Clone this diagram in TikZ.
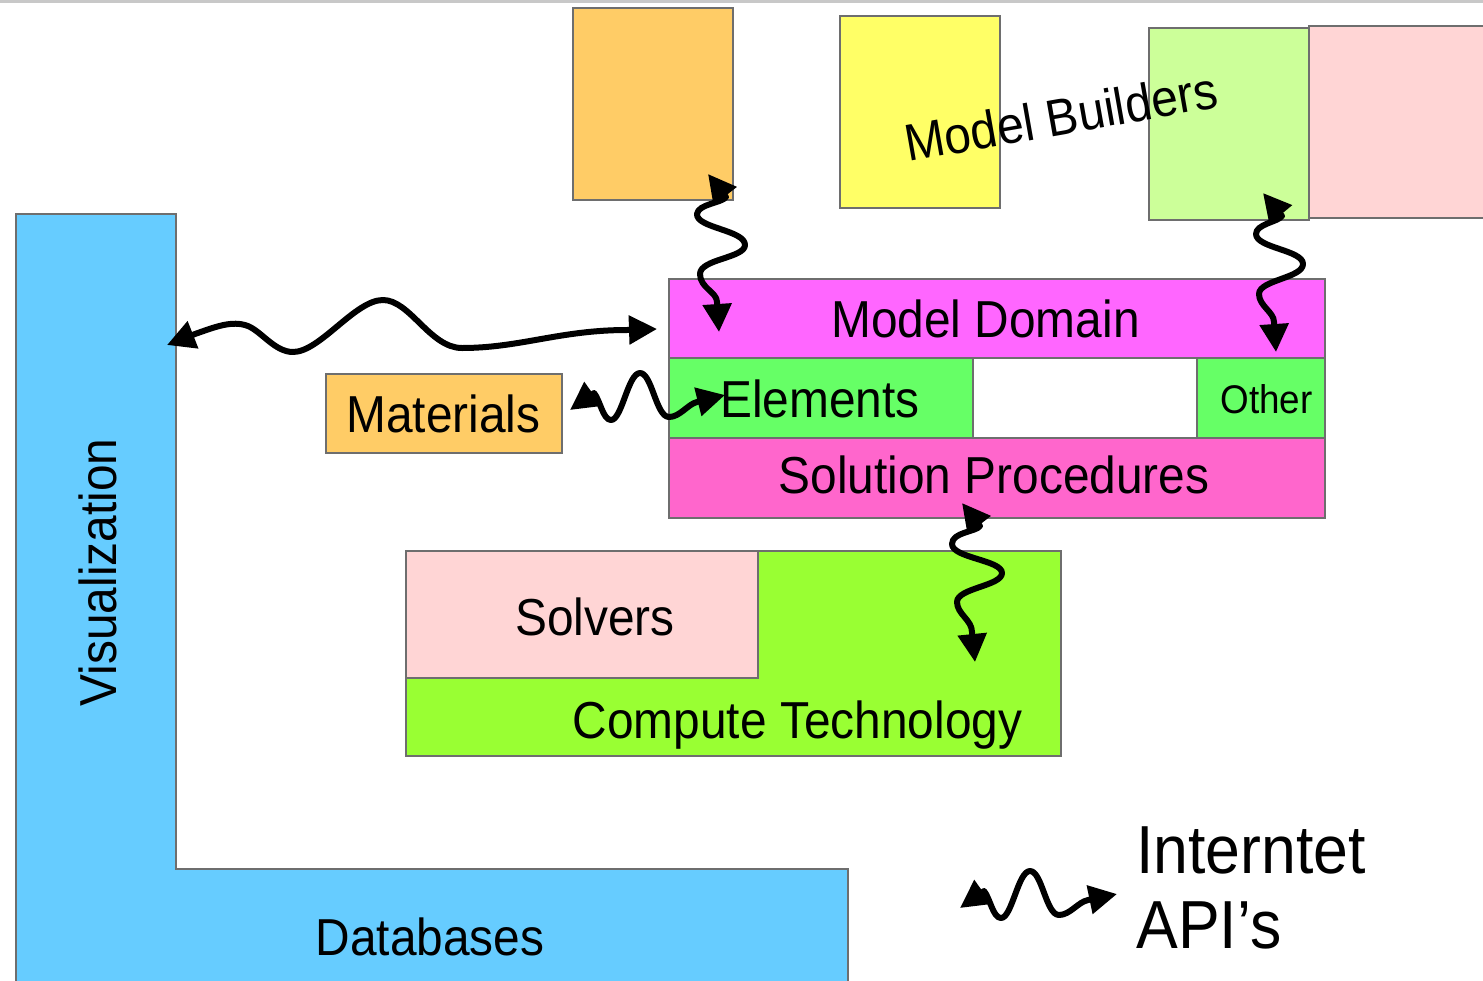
\documentclass[tikz,border=0pt]{standalone}
\usepackage{fontspec}
\usetikzlibrary{arrows.meta}
\newfontfamily\lblfont{Liberation Sans}[FakeStretch=0.92]

\definecolor{topgray}{HTML}{C8C8C8}
\definecolor{vizblue}{HTML}{66CCFF}
\definecolor{builderorange}{HTML}{FFCC66}
\definecolor{builderyellow}{HTML}{FFFF66}
\definecolor{buildergreen}{HTML}{CCFF99}
\definecolor{softpink}{HTML}{FFD5D5}
\definecolor{domainmagenta}{HTML}{FF66FF}
\definecolor{elemgreen}{HTML}{66FF66}
\definecolor{solpink}{HTML}{FF66CC}
\definecolor{computegreen}{HTML}{99FF33}
\definecolor{edgegray}{HTML}{6E6E6E}

\begin{document}
\begin{tikzpicture}[x=0.5pt,y=-0.5pt,
  box/.style={draw=edgegray, line width=0.6pt, inner sep=0pt, outer sep=0pt},
  lbl/.style={inner sep=0pt, anchor=base, font={\lblfont\fontsize{26}{31}\selectfont}},
  api/.style={line width=3pt, line join=round, line cap=round,
    arrows={Triangle[length=14pt,width=14pt]-Triangle[length=14pt,width=14pt]}}]
\useasboundingbox (0,0) rectangle (1483,980);
\clip (0,0) rectangle (1483,980);

% thin rule along the top
\fill[topgray] (0,0) rectangle (1483,3);

% visualization / databases L-shaped band
\draw[draw=edgegray, line width=0.6pt, fill=vizblue]
  (16,214) -- (176,214) -- (176,869) -- (848,869) -- (848,995) -- (16,995) -- cycle;
\node[lbl, rotate=90] (vistext) at (116,572.5) {Visualization};
\node[lbl] (dbtext) at (430,955) {Databases};

% model builders
\node[box, fill=builderorange, minimum width=80pt, minimum height=96pt] (orange) at (653,104) {};
\node[box, fill=builderyellow, minimum width=80pt, minimum height=96pt] (yellow) at (920,112) {};
\node[box, fill=buildergreen, minimum width=80pt, minimum height=96pt] (lgreen) at (1229,124) {};
\node[box, fill=softpink, minimum width=96pt, minimum height=96pt, anchor=west] (pinkb) at (1309,122) {};
\node[lbl, anchor=base west, rotate=10] (buildtext) at (908,162) {Model Builders};

% model domain stack
\node[box, fill=domainmagenta, minimum width=328pt, minimum height=39.5pt] (domain) at (997,318.5) {};
\node[box, fill=elemgreen, minimum width=152pt, minimum height=40pt] (elements) at (821,398) {};
\node[box, fill=elemgreen, minimum width=64pt, minimum height=40pt] (other) at (1261,398) {};
\node[box, fill=solpink, minimum width=328pt, minimum height=40pt] (solution) at (997,478) {};
\node[lbl] (domaintext) at (985.5,337) {Model Domain};
\node[lbl] (elemtext) at (820,417) {Elements};
\node[lbl, font={\lblfont\fontsize{20}{24}\selectfont}] (othertext) at (1266.5,413) {Other};
\node[lbl] (soltext) at (994,493) {Solution Procedures};

% materials
\node[box, fill=builderorange, minimum width=118pt, minimum height=39.5pt] (materials) at (444,413.5) {};
\node[lbl] (mattext) at (443.5,432) {Materials};

% compute technology and solvers
\node[box, fill=computegreen, minimum width=327.5pt, minimum height=102.5pt] (compute) at (733.5,653.5) {};
\node[box, fill=softpink, minimum width=176pt, minimum height=63.5pt] (solvers) at (582,614.5) {};
\node[lbl] (solvtext) at (595,635) {Solvers};
\node[lbl] (comptext) at (797.5,738) {Compute Technology};

% legend text
\node[inner sep=0pt, anchor=base west, align=left,
  font={\lblfont\fontsize{34}{37.5}\selectfont}] (legendtext) at (1136,948) {Interntet\\API’s};

% end points of the API connectors
\coordinate (oA) at (708,174);   \coordinate (oB) at (719,332);
\coordinate (gA) at (1263,193);  \coordinate (gB) at (1276,352);
\coordinate (sA) at (962,503);   \coordinate (sB) at (975,662);
\coordinate (vL) at (167,345);   \coordinate (vR) at (657,329);
\coordinate (mL) at (570,410);   \coordinate (mR) at (725,395);
\coordinate (lL) at (960,908);   \coordinate (lR) at (1117,894);

% builder -> domain
\draw[api] (oA) -- (726,197) .. controls (722,203) and (698,204) .. (697,214)
  .. controls (696,228) and (745,230) .. (745,245)
  .. controls (745,258) and (700,259) .. (700,274)
  .. controls (700,288) and (717,292) .. (717,302) -- (oB);
\draw[api] (gA) -- (1282,216) .. controls (1278,222) and (1256,224) .. (1256,234)
  .. controls (1256,248) and (1303,250) .. (1303,264)
  .. controls (1303,278) and (1259,280) .. (1259,294)
  .. controls (1259,306) and (1274,312) .. (1274,322) -- (gB);

% solution procedures -> compute technology
\draw[api] (sA) -- (980,526) .. controls (976,532) and (952,532) .. (952,544)
  .. controls (952,558) and (1002,560) .. (1002,573)
  .. controls (1002,586) and (957,588) .. (957,602)
  .. controls (957,614) and (972,620) .. (972,632) -- (sB);

% visualization <-> model domain
\draw[api] (vL) -- (195,334) .. controls (215,327) and (232,320) .. (248,326)
  .. controls (262,332) and (275,352) .. (293,352)
  .. controls (320,352) and (355,300) .. (383,300)
  .. controls (410,300) and (430,348) .. (462,348)
  .. controls (520,348) and (560,330) .. (627,330) -- (vR);

% materials <-> elements
\draw[api] (mL) -- (594,393) .. controls (600,400) and (603,420) .. (611,420)
  .. controls (622,420) and (628,373) .. (640,373)
  .. controls (652,373) and (656,417) .. (669,417)
  .. controls (680,417) and (688,404) .. (697,402) -- (mR);

% legend connector
\draw[api] (lL) -- (984,891) .. controls (990,898) and (993,918) .. (1001,918)
  .. controls (1012,918) and (1018,871) .. (1030,871)
  .. controls (1042,871) and (1046,915) .. (1059,915)
  .. controls (1070,915) and (1078,902) .. (1088,900) -- (lR);
\end{tikzpicture}
\end{document}
